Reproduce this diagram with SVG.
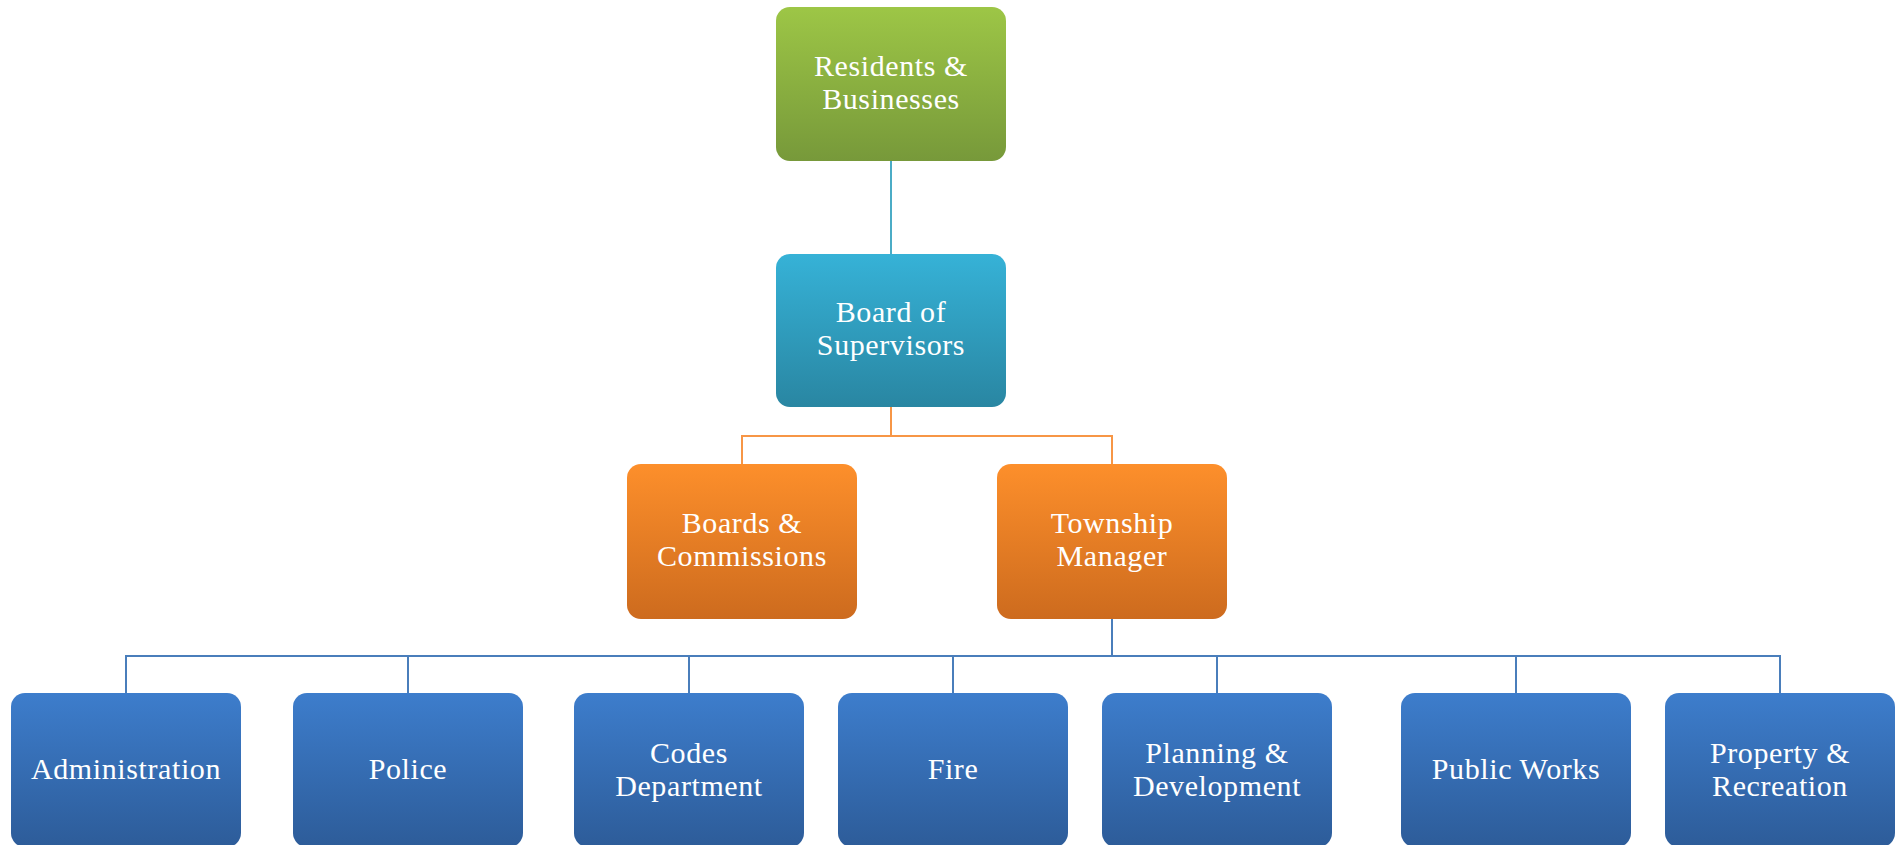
<svg xmlns="http://www.w3.org/2000/svg" width="1900" height="845" viewBox="0 0 1900 845">
  <defs>
    <linearGradient id="gGreen" x1="0" y1="0" x2="0" y2="1">
      <stop offset="0" stop-color="#9dc646"/>
      <stop offset="1" stop-color="#77993a"/>
    </linearGradient>
    <linearGradient id="gCyan" x1="0" y1="0" x2="0" y2="1">
      <stop offset="0" stop-color="#36b2d7"/>
      <stop offset="1" stop-color="#2986a2"/>
    </linearGradient>
    <linearGradient id="gOrange" x1="0" y1="0" x2="0" y2="1">
      <stop offset="0" stop-color="#fd8f2b"/>
      <stop offset="1" stop-color="#cd6b1e"/>
    </linearGradient>
    <linearGradient id="gBlue" x1="0" y1="0" x2="0" y2="1">
      <stop offset="0" stop-color="#3d7dcc"/>
      <stop offset="1" stop-color="#2d5c99"/>
    </linearGradient>
    <style>
      .box { rx: 14px; ry: 14px; }
      .green { fill: url(#gGreen); }
      .cyan { fill: url(#gCyan); }
      .orange { fill: url(#gOrange); }
      .blue { fill: url(#gBlue); }
      .lbl { font-family: "Liberation Serif", "DejaVu Serif", serif; font-size: 30px; fill: #ffffff; text-anchor: middle; letter-spacing: 0.6px; }
      .cn { fill: none; stroke-width: 2; }
      .c1 { stroke: #4bacc6; }
      .c2 { stroke: #f79646; }
      .c3 { stroke: #4a7ebb; }
    </style>
  </defs>

  <!-- connectors -->
  <g id="connectors">
    <path class="cn c1" d="M891 161 V254"/>
    <path class="cn c2" d="M891 407 V436 M742 464 V436 H1112 V464"/>
    <path class="cn c3" d="M1112 619 V656 M126 693 V656 H1780 V693 M408 656 V693 M689 656 V693 M953 656 V693 M1217 656 V693 M1516 656 V693"/>
  </g>

  <g id="residents">
    <rect class="box green" x="776" y="7" width="230" height="154"/>
    <text class="lbl" x="891" y="76">Residents &amp;</text>
    <text class="lbl" x="891" y="109">Businesses</text>
  </g>

  <g id="board-of-supervisors">
    <rect class="box cyan" x="776" y="254" width="230" height="153"/>
    <text class="lbl" x="891" y="322">Board of</text>
    <text class="lbl" x="891" y="355">Supervisors</text>
  </g>

  <g id="boards-commissions">
    <rect class="box orange" x="627" y="464" width="230" height="155"/>
    <text class="lbl" x="742" y="533">Boards &amp;</text>
    <text class="lbl" x="742" y="566">Commissions</text>
  </g>

  <g id="township-manager">
    <rect class="box orange" x="997" y="464" width="230" height="155"/>
    <text class="lbl" x="1112" y="533">Township</text>
    <text class="lbl" x="1112" y="566">Manager</text>
  </g>

  <g id="administration">
    <rect class="box blue" x="11" y="693" width="230" height="154"/>
    <text class="lbl" x="126" y="779">Administration</text>
  </g>

  <g id="police">
    <rect class="box blue" x="293" y="693" width="230" height="154"/>
    <text class="lbl" x="408" y="779">Police</text>
  </g>

  <g id="codes">
    <rect class="box blue" x="574" y="693" width="230" height="154"/>
    <text class="lbl" x="689" y="763">Codes</text>
    <text class="lbl" x="689" y="796">Department</text>
  </g>

  <g id="fire">
    <rect class="box blue" x="838" y="693" width="230" height="154"/>
    <text class="lbl" x="953" y="779">Fire</text>
  </g>

  <g id="planning">
    <rect class="box blue" x="1102" y="693" width="230" height="154"/>
    <text class="lbl" x="1217" y="763">Planning &amp;</text>
    <text class="lbl" x="1217" y="796">Development</text>
  </g>

  <g id="public-works">
    <rect class="box blue" x="1401" y="693" width="230" height="154"/>
    <text class="lbl" x="1516" y="779">Public Works</text>
  </g>

  <g id="property-recreation">
    <rect class="box blue" x="1665" y="693" width="230" height="154"/>
    <text class="lbl" x="1780" y="763">Property &amp;</text>
    <text class="lbl" x="1780" y="796">Recreation</text>
  </g>
</svg>
